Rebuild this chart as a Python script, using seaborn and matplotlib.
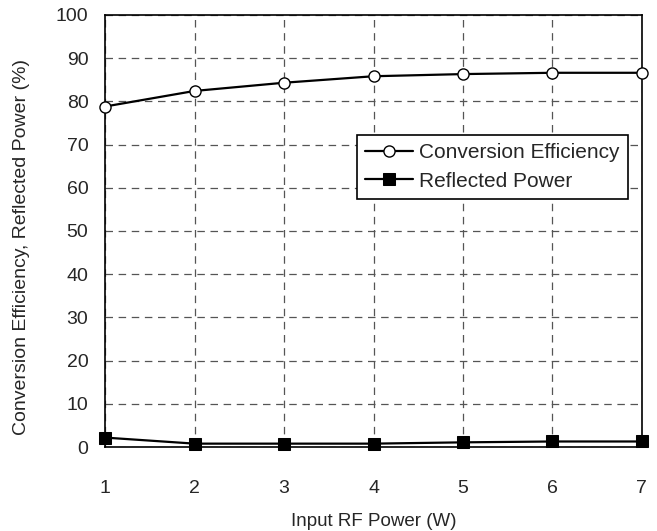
import matplotlib
matplotlib.use("Agg")
import matplotlib.pyplot as plt
import seaborn as sns

# Data
input_power = [1, 2, 3, 4, 5, 6, 7]
conversion_eff = [78.8, 82.4, 84.3, 85.8, 86.3, 86.6, 86.6]
reflected_power = [2.2, 0.8, 0.8, 0.8, 1.1, 1.3, 1.3]

sns.set_style("white")
plt.rcParams["font.family"] = ["Liberation Sans", "DejaVu Sans"]

fig = plt.figure(figsize=(6.57, 5.31), dpi=100)
ax = fig.add_axes([0.16, 0.158, 0.817, 0.814])

sns.lineplot(x=input_power, y=conversion_eff, ax=ax, color="black", lw=1.6,
             marker="o", markersize=8, markerfacecolor="white",
             markeredgecolor="black", markeredgewidth=1.0,
             label="Conversion Efficiency", clip_on=False, zorder=5)
sns.lineplot(x=input_power, y=reflected_power, ax=ax, color="black", lw=1.6,
             marker="s", markersize=8, markerfacecolor="black",
             markeredgecolor="black",
             label="Reflected Power", clip_on=False, zorder=5)

ax.set_xlim(1, 7)
ax.set_ylim(0, 100)
ax.set_xticks(range(1, 8))
ax.set_yticks(range(0, 101, 10))
ax.grid(True, linestyle=(0, (6, 4.5)), color="#555555", linewidth=0.9)
ax.tick_params(axis="x", length=0, pad=24, labelsize=14)
ax.tick_params(axis="y", length=0, pad=12, labelsize=14)
for s in ax.spines.values():
    s.set_color("black")
    s.set_linewidth(1.2)

ax.set_xlabel("Input RF Power (W)", fontsize=13.5, labelpad=11)
ax.set_ylabel("Conversion Efficiency, Reflected Power (%)", fontsize=14)
ax.yaxis.set_label_coords(-0.14, 0.463)

leg = ax.legend(loc="upper right", bbox_to_anchor=(0.974, 0.722), fontsize=15,
                frameon=True, fancybox=False, edgecolor="black", framealpha=1,
                handlelength=2.3, borderpad=0.4, labelspacing=0.45, handletextpad=0.3,
                borderaxespad=0)
leg.get_frame().set_linewidth(1.2)

fig.savefig("out.png", dpi=100)
